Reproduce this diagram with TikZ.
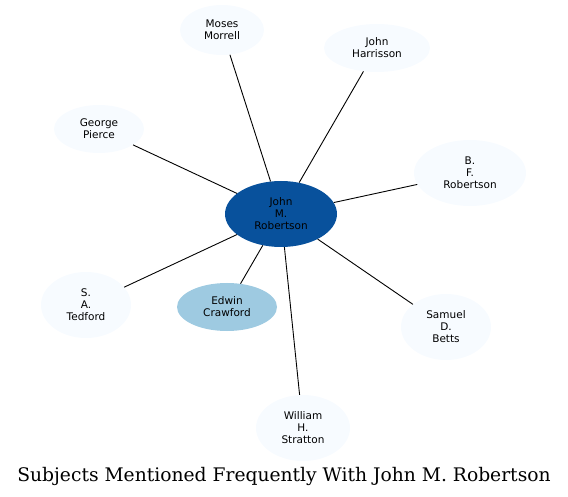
\documentclass[tikz,border=0pt]{standalone}
\usepackage{fontspec}
\setmainfont{DejaVu Sans}
\newfontfamily\titlefont{DejaVu Serif}
\usetikzlibrary{shapes.geometric}
\definecolor{leaf}{HTML}{F7FBFF}
\definecolor{hub}{HTML}{08519C}
\definecolor{mid}{HTML}{9ECAE1}
\tikzset{
  ent/.style={ellipse, fill=leaf, inner sep=0pt, align=center,
    font=\fontsize{10.5}{12}\selectfont, text=black},
  link/.style={draw=black, line width=0.9pt}
}
\begin{document}
\begin{tikzpicture}[x=1pt,y=-1pt]
\useasboundingbox (0,0) rectangle (568,497);
\node[ent, fill=hub, minimum width=112pt, minimum height=66pt] (c) at (281,214) {John\\M.\\Robertson};
\node[ent, minimum width=84pt, minimum height=50pt] (mm) at (222,30) {Moses\\Morrell};
\node[ent, minimum width=106pt, minimum height=48pt] (jh) at (377,48) {John\\Harrisson};
\node[ent, minimum width=90pt, minimum height=48pt] (gp) at (99,129) {George\\Pierce};
\node[ent, minimum width=112pt, minimum height=66pt] (bf) at (470,173) {B.\\F.\\Robertson};
\node[ent, minimum width=90pt, minimum height=66pt] (st) at (86,305) {S.\\A.\\Tedford};
\node[ent, fill=mid, minimum width=100pt, minimum height=48pt] (ec) at (227,307) {Edwin\\Crawford};
\node[ent, minimum width=90pt, minimum height=66pt] (sb) at (446,327) {Samuel\\D.\\Betts};
\node[ent, minimum width=94pt, minimum height=66pt] (ws) at (303,428) {William\\H.\\Stratton};
\foreach \n in {mm,jh,gp,bf,st,ec,sb,ws} \draw[link] (c) -- (\n);
\node[font=\titlefont\fontsize{18.7}{22}\selectfont] (title) at (284,476) {Subjects Mentioned Frequently With John M. Robertson};
\end{tikzpicture}
\end{document}
